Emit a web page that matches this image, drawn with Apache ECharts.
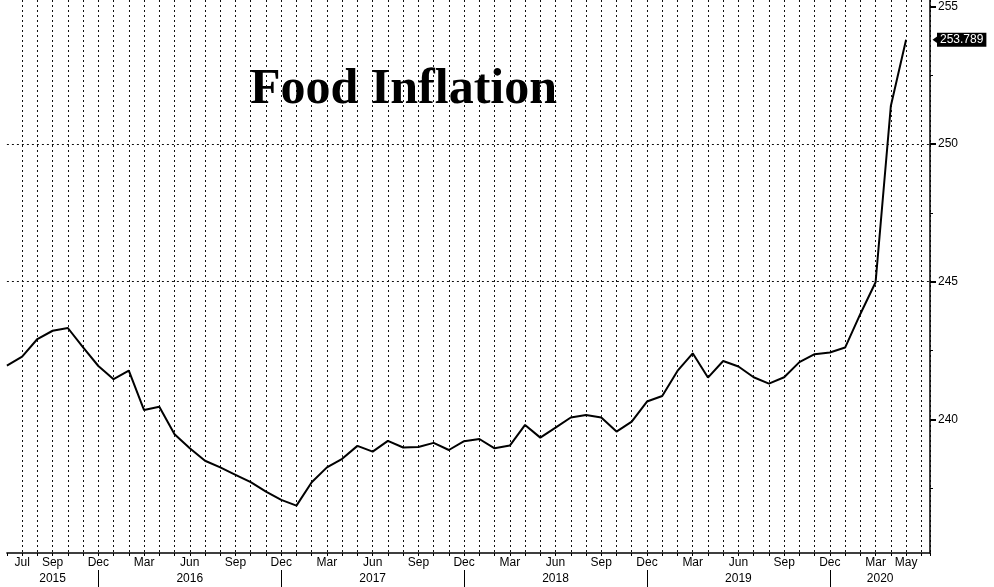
<!DOCTYPE html>
<html>
<head>
<meta charset="utf-8">
<script src="https://cdn.jsdelivr.net/npm/echarts@6/dist/echarts.min.js"></script>
<style>
    html, body { margin: 0; padding: 0; background: #fff; }
    #chart { width: 994px; height: 587px; }
</style>
</head>
<body>
<div id="chart"></div>
<script>
// monthly food CPI, Jun 2015 .. May 2020 (index 0 = Jun 2015)
const monthNames = ["Jan", "Feb", "Mar", "Apr", "May", "Jun", "Jul", "Aug", "Sep", "Oct", "Nov", "Dec"];
const foodCpi = [
    241.95, 242.28, 242.92, 243.22, 243.32, 242.62, 241.94, 241.46, 241.77, 240.34,
    240.46, 239.46, 238.95, 238.50, 238.26, 237.99, 237.72, 237.38, 237.08, 236.87,
    237.72, 238.26, 238.57, 239.04, 238.83, 239.22, 238.98, 239.00, 239.15, 238.89,
    239.21, 239.29, 238.95, 239.05, 239.80, 239.34, 239.70, 240.07, 240.16, 240.07,
    239.56, 239.92, 240.65, 240.85, 241.76, 242.40, 241.52, 242.12, 241.92, 241.53,
    241.30, 241.53, 242.08, 242.37, 242.43, 242.61, 243.83, 244.98, 251.38, 253.789
];
// month labels shown on the axis (index from Jun 2015)
const monthTickIndex = [1, 3, 6, 9, 12, 15, 18, 21, 24, 27, 30, 33, 36, 39, 42, 45, 48, 51, 54, 57, 59];
const yearLabels = ["2015", "2016", "2017", "2018", "2019", "2020"];
const yearLabelIndex = [3, 12, 24, 36, 48, 57.3];
const yearSepIndex = [6, 18, 30, 42, 54];
const yMajorTicks = [240, 245, 250, 255];
const yMinorTicks = [237.5, 242.5, 247.5, 252.5];

const axisFont = { fontFamily: "Liberation Sans", fontSize: 12, color: "#000" };
const xMax = 60.57;
const lastVal = foodCpi[foodCpi.length - 1];

const chart = echarts.init(document.getElementById("chart"));
chart.setOption({
    backgroundColor: "#fff",
    animation: false,
    title: {
        text: "Food Inflation",
        left: 250,
        top: 65,
        padding: 0,
        textStyle: { fontFamily: "Liberation Serif", fontWeight: "bold", fontSize: 50, color: "#000" }
    },
    grid: { left: 6.9, right: 64, top: 0, bottom: 34 },
    xAxis: [
        {
            type: "value",
            min: 0,
            max: xMax,
            interval: 1,
            position: "bottom",
            axisLine: { show: true, onZero: false, lineStyle: { color: "#000", width: 1.5 } },
            axisTick: { show: true, length: 3, lineStyle: { color: "#000" } },
            axisLabel: {
                ...axisFont,
                margin: 4,
                customValues: monthTickIndex,
                formatter: (v) => monthNames[(5 + v) % 12]
            },
            splitLine: {
                show: true,
                showMinLine: false,
                lineStyle: { color: "#111", width: 1, type: [2, 3] }
            }
        },
        {
            type: "value",
            min: 0,
            max: xMax,
            position: "bottom",
            offset: 17,
            axisLine: { show: false, onZero: false },
            axisTick: { show: true, length: 17, customValues: yearSepIndex, lineStyle: { color: "#000" } },
            axisLabel: {
                ...axisFont,
                margin: 3,
                customValues: yearLabelIndex,
                formatter: (v) => yearLabels[yearLabelIndex.indexOf(v)]
            },
            splitLine: { show: false }
        }
    ],
    yAxis: [
        {
            type: "value",
            position: "right",
            min: 235.15,
            max: 255.23,
            splitNumber: 4,
            axisLine: { show: true, onZero: false, lineStyle: { color: "#000", width: 1.5 } },
            axisTick: { show: true, length: 6, customValues: yMajorTicks, lineStyle: { color: "#000", width: 2 } },
            axisLabel: { ...axisFont, margin: 8, customValues: yMajorTicks },
            splitLine: {
                show: true,
                showMinLine: false,
                showMaxLine: false,
                lineStyle: { color: "#111", width: 1, type: [2, 3] }
            }
        },
        {
            type: "value",
            position: "right",
            min: 235.15,
            max: 255.23,
            axisLine: { show: false, onZero: false },
            axisTick: { show: true, length: 3, customValues: yMinorTicks, lineStyle: { color: "#000" } },
            axisLabel: { show: false },
            splitLine: { show: false }
        }
    ],
    series: [
        {
            type: "line",
            xAxisIndex: 0,
            yAxisIndex: 0,
            data: foodCpi.map((v, i) => [i, v]),
            showSymbol: false,
            lineStyle: { color: "#000", width: 2 },
            markLine: {
                silent: true,
                symbol: "none",
                lineStyle: { color: "transparent", width: 0 },
                label: {
                    position: "end",
                    distance: 7,
                    formatter: () => String(lastVal),
                    fontFamily: "Liberation Sans",
                    fontSize: 12,
                    color: "#fff",
                    backgroundColor: "#000",
                    padding: [1, 3, 1, 3]
                },
                data: [{ yAxis: lastVal }]
            },
            markPoint: {
                silent: true,
                symbol: "triangle",
                symbolSize: [10, 7],
                symbolRotate: 90,
                symbolOffset: [6, 0],
                itemStyle: { color: "#000" },
                label: { show: false },
                data: [{ coord: [xMax, lastVal] }]
            }
        }
    ]
});
</script>
</body>
</html>
